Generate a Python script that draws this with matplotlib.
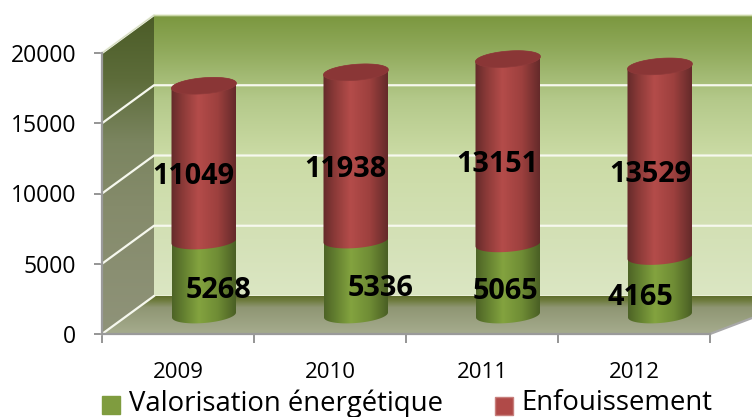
import numpy as np
import matplotlib
matplotlib.use("Agg")
import matplotlib.pyplot as plt
from matplotlib.colors import LinearSegmentedColormap
from matplotlib.patches import Polygon, Rectangle

plt.rcParams['font.family'] = ['Open Sans', 'DejaVu Sans']

years = ['2009', '2010', '2011', '2012']
valorisation = [5268, 5336, 5065, 4165]
enfouissement = [11049, 11938, 13151, 13529]
series_names = ['Valorisation énergétique', 'Enfouissement']
y_ticks = [0, 5000, 10000, 15000, 20000]

# label offsets from segment middle, in pixels
green_offsets = [(15, -13), (25, -11), (-3, -12), (-20, -12)]
red_offsets = [(-11, -13), (-11, -13), (-11, -13), (-10, -13)]

W, H = 752, 417
PX_X = 4 / 608.0      # data units per pixel
PX_Y = 20000 / 281.0
DEPTH_X = 52 * PX_X
DEPTH_Y = 38 * PX_Y

fig = plt.figure(figsize=(W / 100, H / 100), dpi=100)
ax = fig.add_axes([102 / W, (H - 334) / H, 608 / W, 281 / H])
ax.patch.set_visible(False)


def gradient_fill(poly, stops, extent, horizontal=False, zorder=1):
    cmap = LinearSegmentedColormap.from_list('g', stops)
    ramp = np.linspace(0, 1, 256)
    img = ramp.reshape(1, -1) if horizontal else ramp.reshape(-1, 1)
    im = ax.imshow(img, cmap=cmap, extent=extent, aspect='auto', origin='upper',
                   vmin=0, vmax=1, zorder=zorder, interpolation='bilinear')
    clip = Polygon(poly, closed=True, transform=ax.transData)
    im.set_clip_box(fig.bbox)
    im.set_clip_path(clip)
    return im


# walls and floor
right = 4 + 100 * PX_X
back_wall = [(DEPTH_X, DEPTH_Y), (right, DEPTH_Y), (right, 20000 + DEPTH_Y), (DEPTH_X, 20000 + DEPTH_Y)]
gradient_fill(back_wall,
              [(0, '#7b973f'), (0.12, '#8fa95a'), (0.3, '#b4c98a'), (0.5, '#cbdba5'),
               (0.8, '#d4e1b7'), (1, '#dbe6c3')],
              (DEPTH_X, right, DEPTH_Y, 20000 + DEPTH_Y))

side_wall = [(0, 0), (DEPTH_X, DEPTH_Y), (DEPTH_X, 20000 + DEPTH_Y), (0, 20000)]
gradient_fill(side_wall,
              [(0, '#4b5c27'), (0.2, '#5d6c3a'), (0.4, '#7b8560'), (0.6, '#858b6b'), (1, '#8f9379')],
              (0, DEPTH_X, 0, 20000 + DEPTH_Y))

floor = [(0, 0), (DEPTH_X, DEPTH_Y), (right, DEPTH_Y), (4, 0)]
gradient_fill(floor,
              [(0, '#5e6d2c'), (0.12, '#6f7c3f'), (0.3, '#8f9673'), (1, '#a6ac8e')],
              (0, right, 0, DEPTH_Y), zorder=1.5)

# gridlines
for v in y_ticks[1:]:
    ax.plot([0, DEPTH_X, right], [v, v + DEPTH_Y, v + DEPTH_Y], color='#f6f8ee', lw=1.6,
            clip_on=False, zorder=2, solid_joinstyle='miter')
ax.plot([0, DEPTH_X], [0, DEPTH_Y], color='#f6f8ee', lw=1.6, clip_on=False, zorder=2)
ax.plot([DEPTH_X, right], [DEPTH_Y, DEPTH_Y], color='#eef3dc', lw=1.2, clip_on=False, zorder=1.4)
ax.plot([DEPTH_X, right], [20000 + DEPTH_Y] * 2, color='#c9d6a6', lw=1.0, clip_on=False, zorder=2)
ax.plot([4, right], [0, DEPTH_Y], color='#a8a8a8', lw=1.6, clip_on=False, zorder=2)
ax.plot([0, DEPTH_X], [20000, 20000 + DEPTH_Y], color='#d5dcc0', lw=0.8, clip_on=False, zorder=2)

GREEN = [(0, '#4d6326'), (0.18, '#637f30'), (0.42, '#83a33f'), (0.72, '#6f8c35'), (1, '#4a5f24')]
RED = [(0, '#642a2a'), (0.18, '#8b3a38'), (0.42, '#b44c4a'), (0.72, '#9d403e'), (1, '#642a2a')]
B_PX = 8 * PX_Y
TILT = 2.5 * PX_Y


def cylinder(cx, half_w, low, high, stops, z):
    # outline: front arc of the bottom, then back arc of the top
    t1 = np.linspace(np.pi, 2 * np.pi, 50)
    t2 = np.linspace(0, np.pi, 50)
    bottom = [(cx + half_w * np.cos(t), low + B_PX * np.sin(t) + TILT * np.cos(t)) for t in t1]
    top = [(cx + half_w * np.cos(t), high + B_PX * np.sin(t) + TILT * np.cos(t)) for t in t2]
    gradient_fill(bottom + top, stops,
                  (cx - half_w, cx + half_w, low - 2 * B_PX, high + 2 * B_PX),
                  horizontal=True, zorder=z)
    return top


for i, year in enumerate(years):
    cx = i + 0.5 + DEPTH_X / 2
    base = DEPTH_Y / 2
    low = base
    mid = base + valorisation[i]
    high = mid + enfouissement[i]
    z = 3 + i
    cylinder(cx, 32 * PX_X, low, mid, GREEN, z)
    cylinder(cx, 32.5 * PX_X, mid, high, RED, z + 0.1)
    t = np.linspace(0, 2 * np.pi, 100)
    cap = np.column_stack([cx + 32.5 * PX_X * np.cos(t),
                           high + B_PX * np.sin(t) + TILT * np.cos(t)])
    ax.add_patch(Polygon(cap, closed=True, facecolor='#8a3636', edgecolor='#8e3a3a',
                         lw=0.5, clip_on=False, zorder=z + 0.2))

    ax.annotate(str(valorisation[i]), (cx, low + valorisation[i] / 2),
                xytext=(green_offsets[i][0] * 0.72, green_offsets[i][1] * 0.72),
                textcoords='offset points', ha='center', va='center',
                fontsize=20.8, fontweight='bold', color='black', zorder=20, annotation_clip=False)
    ax.annotate(str(enfouissement[i]), (cx, mid + enfouissement[i] / 2),
                xytext=(red_offsets[i][0] * 0.72, red_offsets[i][1] * 0.72),
                textcoords='offset points', ha='center', va='center',
                fontsize=20.8, fontweight='bold', color='black', zorder=20, annotation_clip=False)

# axes
ax.set_xlim(0, 4)
ax.set_ylim(0, 20000)
ax.set_yticks(y_ticks)
ax.set_xticks(range(5))
ax.set_xticklabels([])
ax.set_xticks([i + 0.5 for i in range(4)], minor=True)
ax.set_xticklabels(years, minor=True, fontsize=16)
ax.tick_params(axis='x', which='minor', length=0, pad=20)
ax.tick_params(axis='x', which='major', length=6.5, width=1.3, color='#8c8c8c')
ax.tick_params(axis='y', length=6, width=1.3, color='#8c8c8c', labelsize=16.5, pad=12.6)
for side in ['top', 'right']:
    ax.spines[side].set_visible(False)
for side in ['left', 'bottom']:
    ax.spines[side].set_color('#9a9a9a')
    ax.spines[side].set_linewidth(1.6)
    ax.spines[side].set_zorder(2.5)

# legend
fig.patches.append(Rectangle((102 / W, (H - 414) / H), 18 / W, 18 / H, transform=fig.transFigure,
                             facecolor='#7f9c3f', edgecolor='#7f9c3f', figure=fig))
fig.patches.append(Rectangle((494.5 / W, (H - 414.5) / H), 18 / W, 18 / H, transform=fig.transFigure,
                             facecolor='#b04a48', edgecolor='#c77f7c', lw=1, figure=fig))
fig.text(129 / W, (H - 410.5) / H, series_names[0], fontsize=19.8, va='baseline', color='black')
fig.text(521 / W, (H - 410.5) / H, series_names[1], fontsize=19.8, va='baseline', color='black')

fig.savefig('out.png', dpi=100)
